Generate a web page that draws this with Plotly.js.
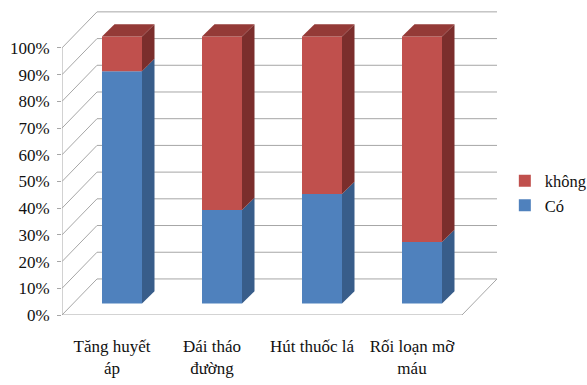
<!DOCTYPE html>
<html>
<head>
<meta charset="utf-8">
<script src="https://cdn.plot.ly/plotly-3.0.1.min.js"></script>
<style>
  html, body { margin: 0; padding: 0; background: #fff; font-family: 'Liberation Serif'; }
  #chart text { font-family: 'Liberation Serif' !important; }
</style>
</head>
<body>
<div id="chart" style="width:587px;height:385px"></div>
<script>
// Category labels and the two stacked shares (percent)
const categories = ['Tăng huyết<br>áp', 'Đái tháo<br>đường', 'Hút thuốc lá', 'Rối loạn mỡ<br>máu'];
const coValues = [87, 35, 41, 23];
const khongValues = [13, 65, 59, 77];
const yTicks = [0, 10, 20, 30, 40, 50, 60, 70, 80, 90, 100];
const yTickText = yTicks.map(v => v + '%');

// Pseudo-3D geometry, in axis units
const WALL_DX = 0.35, WALL_DY = 13.5;   // depth of the floor / side wall
const FRONT_DX = 0.10, FRONT_DY = 4.3;  // bar front face pushed back
const SIDE_DX = 0.125, SIDE_DY = 4.6;   // bar thickness
const BAR_W = 0.40;

const colors = {
  coFront: '#4F81BD', coSide: '#385D8A',
  khFront: '#C0504D', khSide: '#7B2E2C', khTop: '#943A37',
  grid: '#A6A6A6', text: '#111111'
};

const xs = categories.map((_, i) => i + FRONT_DX);
const first = -0.5, last = categories.length - 0.5;

const traces = [];
traces.push({
  type: 'bar', name: 'Có', x: xs, y: coValues, base: coValues.map(() => FRONT_DY),
  width: BAR_W, marker: { color: colors.coFront, line: { width: 0 } },
  legendgroup: 'co', hoverinfo: 'skip'
});
traces.push({
  type: 'bar', name: 'không', x: xs, y: khongValues,
  base: coValues.map(v => v + FRONT_DY),
  width: BAR_W, marker: { color: colors.khFront, line: { width: 0 } },
  legendgroup: 'kh', hoverinfo: 'skip'
});

// Side faces and top faces of each bar
function sideFace(x, y0, y1, color) {
  const xr = x + BAR_W / 2;
  return {
    type: 'scatter', mode: 'lines', fill: 'toself', fillcolor: color,
    line: { width: 0, color: color }, showlegend: false, hoverinfo: 'skip',
    x: [xr, xr + SIDE_DX, xr + SIDE_DX, xr, xr],
    y: [y0, y0 + SIDE_DY, y1 + SIDE_DY, y1, y0]
  };
}
function topFace(x, y, color) {
  const xl = x - BAR_W / 2, xr = x + BAR_W / 2;
  return {
    type: 'scatter', mode: 'lines', fill: 'toself', fillcolor: color,
    line: { width: 0, color: color }, showlegend: false, hoverinfo: 'skip',
    x: [xl, xr, xr + SIDE_DX, xl + SIDE_DX, xl],
    y: [y, y, y + SIDE_DY, y + SIDE_DY, y]
  };
}
xs.forEach((x, i) => {
  const c = coValues[i], k = khongValues[i];
  traces.push(sideFace(x, FRONT_DY, FRONT_DY + c, colors.coSide));
  traces.push(sideFace(x, FRONT_DY + c, FRONT_DY + c + k, colors.khSide));
  traces.push(topFace(x, FRONT_DY + c + k, colors.khTop));
});

// Walls, floor and axis lines drawn beneath the bars
const shapes = [];
const gridLine = { color: colors.grid, width: 1 };
yTicks.forEach(v => {
  shapes.push({ type: 'line', layer: 'below', xref: 'x', yref: 'y',
    x0: first, y0: v, x1: first + WALL_DX, y1: v + WALL_DY, line: gridLine });
  shapes.push({ type: 'line', layer: 'below', xref: 'x', yref: 'y',
    x0: first + WALL_DX, y0: v + WALL_DY, x1: last + WALL_DX, y1: v + WALL_DY, line: gridLine });
});
shapes.push({ type: 'line', layer: 'below', xref: 'x', yref: 'y',
  x0: last, y0: 0, x1: last + WALL_DX, y1: WALL_DY, line: gridLine });
shapes.push({ type: 'line', layer: 'below', xref: 'x', yref: 'y',
  x0: first, y0: 0, x1: last, y1: 0, line: gridLine });
shapes.push({ type: 'line', layer: 'below', xref: 'x', yref: 'y',
  x0: first, y0: 0, x1: first, y1: 100, line: gridLine });
// category boundary ticks below the floor edge
for (let b = first; b <= last + 1e-9; b += 1) {
  shapes.push({ type: 'line', layer: 'below', xref: 'x', yref: 'y',
    ysizemode: 'pixel', yanchor: 0, x0: b, x1: b, y0: 0, y1: -7, line: gridLine });
}

// one font object per text element
const serif = (size) => ({ family: 'Liberation Serif', size: size || 17, color: colors.text });

const layout = {
  width: 587, height: 385,
  margin: { l: 62, r: 90, t: 10, b: 70, autoexpand: false },
  paper_bgcolor: '#ffffff', plot_bgcolor: 'rgba(0,0,0,0)',
  font: serif(),
  barmode: 'overlay',
  showlegend: true,
  legend: {
    x: 1.018, xanchor: 'left', y: 0.40, yanchor: 'middle',
    traceorder: 'reversed', tracegroupgap: 27,
    font: serif(16.5), bgcolor: 'rgba(0,0,0,0)'
  },
  xaxis: {
    range: [first, last + WALL_DX], fixedrange: true,
    tickmode: 'array', tickvals: categories.map((_, i) => i), ticktext: categories,
    ticks: '', showgrid: false, zeroline: false, showline: false,
    ticklabelstandoff: 19, tickfont: serif()
  },
  yaxis: {
    range: [0, 100 + WALL_DY + 0.7], fixedrange: true,
    tickmode: 'array', tickvals: yTicks, ticktext: yTickText,
    ticks: 'outside', ticklen: 4, tickcolor: colors.grid,
    ticklabelstandoff: 4,
    showgrid: false, zeroline: false, showline: false, tickfont: serif()
  },
  shapes: shapes
};

// make sure the serif face is ready before text is measured
function draw() {
  Plotly.newPlot('chart', traces, layout, { displayModeBar: false }).then(gd => {
    gd.querySelectorAll('text').forEach(t =>
      t.style.setProperty('font-family', "'Liberation Serif'", 'important'));
  });
}
if (document.fonts && document.fonts.load) {
  document.fonts.load("17px 'Liberation Serif'").then(draw, draw);
} else {
  draw();
}
</script>
</body>
</html>
